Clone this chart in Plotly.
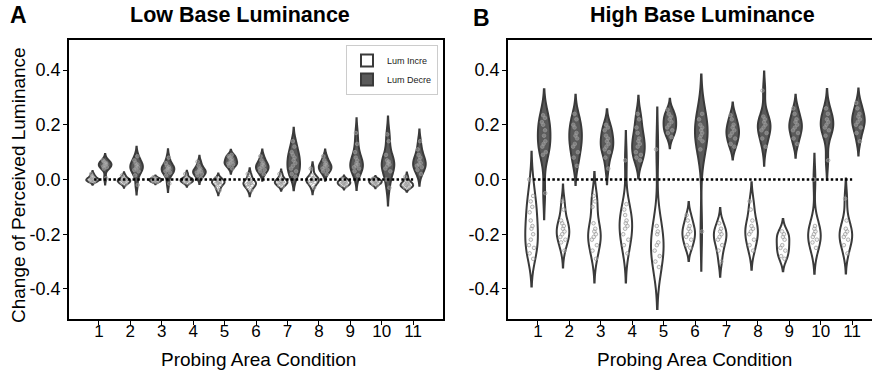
import numpy as np
import plotly.graph_objects as go

conditions = list(range(1, 12))
tick_labels = [str(c) for c in conditions]
y_ticks = [-0.4, -0.2, 0.0, 0.2, 0.4]
y_tick_labels = ["-0.4", "-0.2", "0.0", "0.2", "0.4"]
hue_names = ["Lum Incre", "Lum Decre"]
panel_titles = ["Low Base Luminance", "High Base Luminance"]
panel_letters = ["A", "B"]

# Low base luminance – luminance increment
low_incre = [
    [0.02, 0.008, 0.004, 0.0, -0.002, -0.004, -0.006, -0.008, 0.012, 0.0],
    [0.015, 0.005, 0.0, -0.003, -0.005, -0.008, -0.01, -0.012, -0.018, 0.002],
    [0.008, 0.004, 0.002, 0.0, -0.002, -0.004, -0.006, -0.008, -0.01, 0.0],
    [0.02, 0.006, 0.002, 0.0, -0.003, -0.006, -0.008, -0.01, -0.014, 0.001],
    [0.005, 0.0, -0.005, -0.008, -0.01, -0.012, -0.015, -0.02, -0.03, -0.04],
    [0.02, 0.005, -0.005, -0.01, -0.012, -0.015, -0.018, -0.022, -0.028, -0.04],
    [0.02, 0.005, 0.0, -0.005, -0.008, -0.01, -0.012, -0.015, -0.02, -0.025],
    [0.04, 0.015, 0.005, 0.002, 0.0, -0.003, -0.006, -0.01, -0.015, -0.03],
    [0.003, 0.0, -0.005, -0.008, -0.01, -0.012, -0.015, -0.018, -0.02, -0.025],
    [0.003, 0.0, -0.004, -0.007, -0.01, -0.012, -0.014, -0.017, -0.022, -0.005],
    [0.01, -0.005, -0.01, -0.014, -0.017, -0.02, -0.022, -0.025, -0.028, -0.03],
]
# Low base luminance – luminance decrement
low_decre = [
    [0.07, 0.065, 0.06, 0.058, 0.055, 0.05, 0.048, 0.045, 0.04, 0.005],
    [0.085, 0.07, 0.06, 0.055, 0.05, 0.045, 0.04, 0.035, 0.03, 0.015, -0.02],
    [0.08, 0.06, 0.05, 0.045, 0.04, 0.038, 0.035, 0.03, 0.025, 0.015, -0.015],
    [0.065, 0.05, 0.04, 0.035, 0.03, 0.028, 0.025, 0.02, 0.015, 0.005],
    [0.09, 0.085, 0.08, 0.075, 0.07, 0.065, 0.06, 0.058, 0.055, 0.05, 0.04],
    [0.085, 0.07, 0.06, 0.055, 0.05, 0.045, 0.04, 0.035, 0.03, 0.02],
    [0.14, 0.12, 0.1, 0.09, 0.08, 0.07, 0.06, 0.05, 0.04, 0.03, 0.02, 0.01],
    [0.085, 0.07, 0.06, 0.055, 0.05, 0.045, 0.04, 0.035, 0.03, 0.02],
    [0.17, 0.13, 0.1, 0.08, 0.07, 0.06, 0.055, 0.05, 0.045, 0.04, 0.03, 0.015],
    [0.165, 0.14, 0.09, 0.07, 0.065, 0.06, 0.055, 0.05, 0.04, 0.03, 0.0, -0.03],
    [0.14, 0.11, 0.09, 0.08, 0.07, 0.06, 0.055, 0.05, 0.045, 0.035, 0.02],
]
# High base luminance – luminance increment
high_incre = [
    [0.0, -0.06, -0.08, -0.1, -0.12, -0.15, -0.17, -0.18, -0.2, -0.22, -0.24, -0.25, -0.27, -0.29],
    [-0.08, -0.11, -0.15, -0.16, -0.17, -0.18, -0.19, -0.2, -0.21, -0.22, -0.23, -0.26],
    [-0.06, -0.08, -0.1, -0.16, -0.18, -0.19, -0.2, -0.21, -0.22, -0.24, -0.26, -0.29],
    [0.07, -0.09, -0.11, -0.13, -0.15, -0.16, -0.17, -0.18, -0.2, -0.22, -0.24, -0.27],
    [0.11, -0.17, -0.19, -0.2, -0.23, -0.24, -0.26, -0.28, -0.3, -0.32],
    [-0.13, -0.15, -0.17, -0.18, -0.19, -0.2, -0.21, -0.22, -0.24, -0.25],
    [-0.16, -0.18, -0.19, -0.2, -0.21, -0.22, -0.24, -0.26, -0.3],
    [-0.08, -0.11, -0.15, -0.17, -0.18, -0.19, -0.2, -0.22, -0.24, -0.26],
    [-0.19, -0.2, -0.21, -0.22, -0.24, -0.25, -0.26, -0.28, -0.29],
    [0.0, -0.17, -0.18, -0.19, -0.2, -0.21, -0.22, -0.23, -0.25],
    [-0.07, -0.15, -0.18, -0.19, -0.2, -0.21, -0.22, -0.24, -0.27],
]
# High base luminance – luminance decrement
high_decre = [
    [0.235, 0.225, 0.21, 0.2, 0.18, 0.16, 0.14, 0.13, 0.12, 0.1, 0.09, -0.05],
    [0.24, 0.22, 0.2, 0.19, 0.17, 0.16, 0.15, 0.13, 0.12, 0.1, 0.08, 0.05],
    [0.2, 0.19, 0.18, 0.16, 0.15, 0.14, 0.13, 0.12, 0.11, 0.1, 0.08, 0.04],
    [0.24, 0.22, 0.19, 0.17, 0.15, 0.14, 0.13, 0.12, 0.1, 0.09, 0.08, 0.07],
    [0.255, 0.24, 0.23, 0.22, 0.21, 0.2, 0.19, 0.18, 0.17, 0.155],
    [0.24, 0.22, 0.2, 0.19, 0.18, 0.17, 0.16, 0.15, 0.14, 0.11, -0.19],
    [0.235, 0.22, 0.2, 0.19, 0.18, 0.17, 0.16, 0.15, 0.13, 0.12],
    [0.325, 0.23, 0.22, 0.21, 0.2, 0.19, 0.18, 0.17, 0.15, 0.12],
    [0.26, 0.24, 0.22, 0.21, 0.2, 0.19, 0.18, 0.17, 0.15, 0.13],
    [0.26, 0.24, 0.22, 0.21, 0.2, 0.19, 0.18, 0.16, 0.07],
    [0.28, 0.26, 0.24, 0.23, 0.22, 0.21, 0.2, 0.19, 0.17, 0.14],
]

W, H = 872, 375
FONT = "Liberation Sans, Arial, sans-serif"
fills = ["#ffffff", "#5a5a5a"]
EDGE = "#3a3a3a"


def px(xp):
    return xp / W


def py(yp):
    return 1 - yp / H


fig = go.Figure()
panels = [(low_incre, low_decre), (high_incre, high_decre)]
for p, (inc, dec) in enumerate(panels):
    xa = "x" if p == 0 else "x2"
    ya = "y" if p == 0 else "y2"
    for h, series in enumerate((inc, dec)):
        for i, cond in enumerate(conditions):
            vals = np.array(series[i], dtype=float)
            bw = vals.std(ddof=1) * len(vals) ** (-0.2)
            fig.add_trace(go.Violin(
                x=[cond] * len(vals), y=vals, xaxis=xa, yaxis=ya,
                name=hue_names[h], legendgroup=hue_names[h],
                showlegend=(p == 0 and i == 0),
                offsetgroup=hue_names[h], alignmentgroup="p%d" % p,
                scalegroup="p%d-h%d-c%d" % (p, h, cond),
                fillcolor=fills[h], opacity=1,
                line=dict(color=EDGE, width=2),
                bandwidth=bw, spanmode="soft", scalemode="width",
                points="all", pointpos=0, jitter=0.5,
                marker=dict(size=3.6, color="rgba(215,215,215,0.3)",
                            line=dict(color="rgba(150,150,150,1)", width=0.7)),
                hoverinfo="skip",
            ))
    fig.add_trace(go.Scatter(
        x=[conditions[0] - 0.15, conditions[-1]], y=[0, 0], xaxis=xa, yaxis=ya,
        mode="lines", line=dict(color="black", width=2.5, dash="2.5px,2.3px"),
        showlegend=False, hoverinfo="skip",
    ))

common_y = dict(range=[-0.51, 0.51], tickvals=y_ticks, ticktext=y_tick_labels,
                showgrid=False, zeroline=False, showline=True, linecolor="black",
                linewidth=1.5, ticks="outside", ticklen=4, tickwidth=1.2,
                tickcolor="black", ticklabelstandoff=-1,
                tickfont=dict(size=18, color="black", family=FONT))
common_x = dict(tickvals=conditions, ticktext=tick_labels, showgrid=False,
                zeroline=False, showline=True, linecolor="black", linewidth=1.5,
                ticks="outside", ticklen=4, tickwidth=1.2, tickcolor="black",
                ticklabelstandoff=-8,
                tickfont=dict(size=17, color="black", family=FONT))

fig.update_layout(
    width=W, height=H, margin=dict(l=0, r=0, t=0, b=0),
    paper_bgcolor="white", plot_bgcolor="white",
    violinmode="group", violingap=0.2, violingroupgap=0.0,
    xaxis=dict(domain=[px(69), px(443)], range=[0.05, 11.95], mirror=True, anchor="y", **common_x),
    yaxis=dict(domain=[py(319), py(40)], mirror=True, anchor="x", **common_y),
    xaxis2=dict(domain=[px(508), 1.0], range=[0.05, 0.05 + (872 - 508) / 31.43],
                mirror=True, anchor="y2", **common_x),
    yaxis2=dict(domain=[py(319), py(40)], mirror=False, anchor="x2", **common_y),
    legend=dict(x=px(438), y=py(45), xanchor="right", yanchor="top",
                bgcolor="white", bordercolor="#cccccc", borderwidth=1,
                font=dict(size=9, family=FONT, color="#222222"),
                tracegroupgap=0, itemwidth=30),
    showlegend=True,
)

ann = []
ann.append(dict(text="<b>A</b>", x=px(18), y=py(15), font=dict(size=23)))
ann.append(dict(text="<b>B</b>", x=px(481), y=py(18), font=dict(size=23)))
ann.append(dict(text="<b>%s</b>" % panel_titles[0], x=px(240), y=py(15), font=dict(size=21.5)))
ann.append(dict(text="<b>%s</b>" % panel_titles[1], x=px(702), y=py(15), font=dict(size=21.5)))
ann.append(dict(text="Change of Perceived Luminance", x=px(18), y=py(185), textangle=-90, font=dict(size=19)))
ann.append(dict(text="Probing Area Condition", x=px(258), y=py(359), font=dict(size=19)))
ann.append(dict(text="Probing Area Condition", x=px(694), y=py(359), font=dict(size=19)))
for a in ann:
    a.update(xref="paper", yref="paper", showarrow=False, xanchor="center", yanchor="middle")
    a["font"].update(family=FONT, color="black")
fig.update_layout(annotations=ann)

fig.write_html("out.html")
